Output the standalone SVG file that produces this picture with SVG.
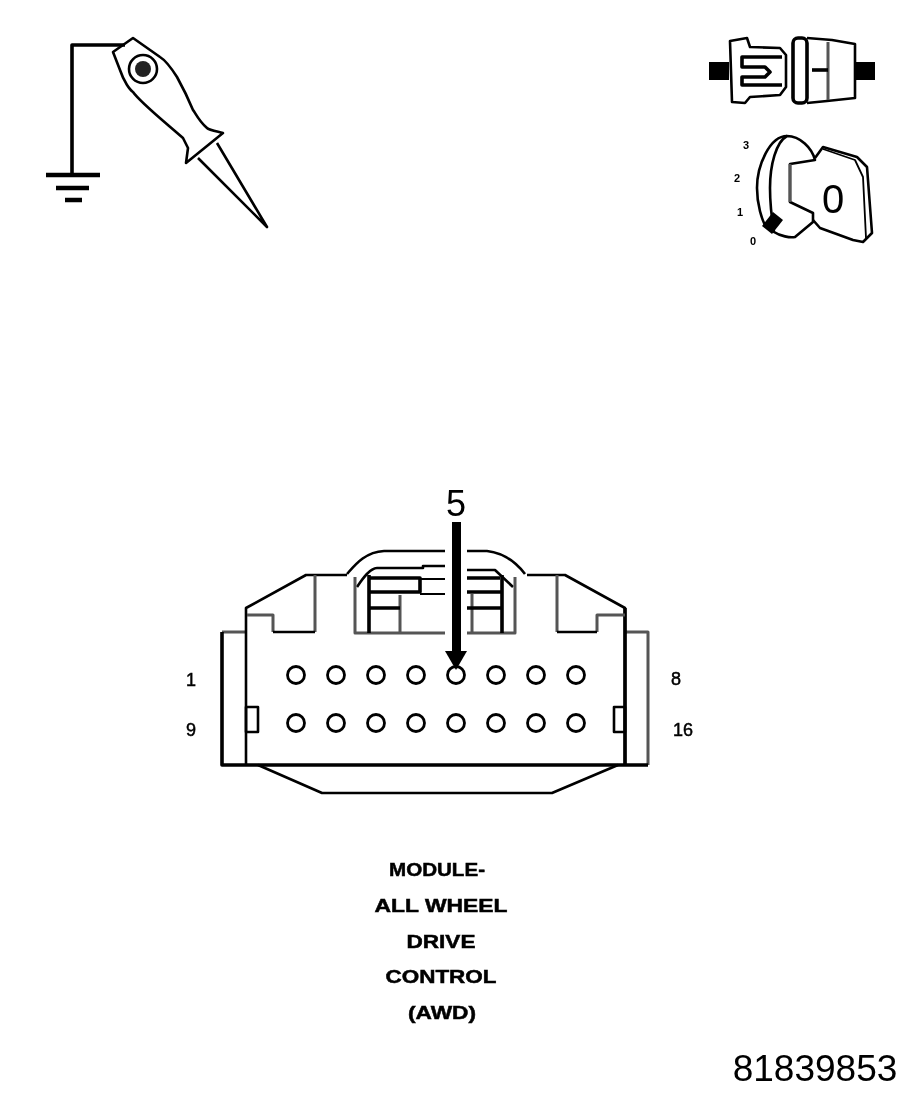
<svg xmlns="http://www.w3.org/2000/svg" width="917" height="1100" viewBox="0 0 917 1100">
<defs><filter id="soft" x="-5%" y="-5%" width="110%" height="110%"><feGaussianBlur stdDeviation="0.6"/></filter></defs>
<style>
.l{fill:none;stroke:#000;stroke-width:2.6;stroke-linejoin:round}
.t{stroke-width:3.6}.n{stroke-width:1.8}.g{stroke:#555;stroke-width:3}
.p{fill:#fff;stroke:#000;stroke-width:2.8}
text{font-family:"Liberation Sans",Arial,sans-serif;fill:#000;text-anchor:middle}
.b{font-weight:bold;font-size:19px;stroke:#000;stroke-width:.5}.s{font-size:18px;stroke:#000;stroke-width:.5}.k{font-size:11px;font-weight:bold}
</style>
<rect width="917" height="1100" fill="#fff"/>
<g filter="url(#soft)">
<g id="connectors">
<path class="l t" d="M125 45H72V175"/>
</g>
<g id="ground">
<path class="l" style="stroke-width:4.5" d="M46 175H100M56 188H89M65 200H82"/>
</g>
<g id="probe">
<path class="l" d="M133 38L113 52L120 70C124 82 130 90 133 92C140 102 160 118 183 138L188 148L186 163L223 133C215 131 209 130 207 128C198 120 195 112 193 110C188 98 182 86 177 77C170 66 165 60 160 57Z"/>
<path class="l" d="M198 158L267 227L217 143"/>
<circle class="l" cx="143" cy="69" r="14"/>
<circle cx="143" cy="69" r="8" fill="#222"/>
</g>
<g id="switch">
<rect x="709" y="62" width="20" height="18" fill="#000"/>
<rect x="856" y="62" width="19" height="18" fill="#000"/>
<path class="l" d="M730 41L747 38L750 47L780 48L786 55V87L780 95L750 97L745 103L732 102Z"/>
<path class="l t" d="M782 57H742V67H765L770 72L765 77H742V85H782"/>
<rect class="l t" x="793" y="38" width="14" height="65" rx="5"/>
<path class="l" d="M807 38L832 40L855 44V98L827 101L807 103"/>
<path class="l g" d="M828 42V100"/>
<path class="l t" d="M812 70H828"/>
</g>
<g id="key">
<path class="l" d="M815 158L823 147L857 157L867 167L872 233L863 242L853 240L820 228L813 220"/>
<path class="l n" d="M823 149L855 160L863 177L866 238"/>
<path class="l" d="M787 136C770 136 757 165 757 188C757 205 762 220 766 227"/>
<path class="l" d="M787 136C776 142 770 165 770 188C770 205 772 220 774 232C780 236 790 238 795 237L813 222V213L790 202V164L815 160C812 148 800 136 787 136Z"/>
<path class="l g" d="M790 164V202"/>
<path d="M773 212L783 220L772 234L762 226Z" fill="#000"/>
<text x="833" y="213" style="font-size:40px">0</text>
<text class="k" x="746" y="149">3</text>
<text class="k" x="737" y="182">2</text>
<text class="k" x="740" y="216">1</text>
<text class="k" x="753" y="245">0</text>
</g>
<g id="connector-body">
<path class="l g" d="M246 632H222M625 632H648V765"/>
<path class="l t" d="M222 632V765H648"/>
<path class="l" d="M246 765V608L306 575H347M625 765V608L565 575H527"/>
<path class="l t" d="M625 608V765"/>
<path class="l" d="M258 765L322 793H552L618 765"/>
<path class="l g" d="M247 615H273V632M315 575V632M557 575V632M597 632V615H625"/>
<path class="l" d="M273 632H315M557 632H597"/>
<path class="l" d="M347 574C355 565 365 552 384 551H445M467 551H487C505 553 518 565 525 574"/>
<path class="l" d="M357 587C363 578 370 568 377 568H423V566H445M467 570H495L513 587"/>
<path class="l g" d="M355 577V633H445M467 633H515V577M400 595V633M472 594V633"/>
<path class="l t" d="M369 575V633M502 575V633M369 578H420V592H369M369 608H400M467 578H500M467 592H501M467 608H501"/>
<path class="l n" d="M420 579H445M420 594H445"/>
<rect class="l" x="246" y="707" width="12" height="25"/>
<rect class="l" x="614" y="707" width="11" height="25"/>
</g>
<g id="pins">
<g>
<circle class="p" cx="296" cy="675" r="8.5"/><circle class="p" cx="336" cy="675" r="8.5"/><circle class="p" cx="376" cy="675" r="8.5"/><circle class="p" cx="416" cy="675" r="8.5"/><circle class="p" cx="456" cy="675" r="8.5"/><circle class="p" cx="496" cy="675" r="8.5"/><circle class="p" cx="536" cy="675" r="8.5"/><circle class="p" cx="576" cy="675" r="8.5"/>
<circle class="p" cx="296" cy="723" r="8.5"/><circle class="p" cx="336" cy="723" r="8.5"/><circle class="p" cx="376" cy="723" r="8.5"/><circle class="p" cx="416" cy="723" r="8.5"/><circle class="p" cx="456" cy="723" r="8.5"/><circle class="p" cx="496" cy="723" r="8.5"/><circle class="p" cx="536" cy="723" r="8.5"/><circle class="p" cx="576" cy="723" r="8.5"/>
</g>
<text class="s" x="191" y="686">1</text>
<text class="s" x="191" y="736">9</text>
<text class="s" x="676" y="685">8</text>
<text class="s" x="683" y="736">16</text>
</g>
<g id="pin-arrow">
<rect x="452" y="522" width="9" height="130" fill="#000"/>
<path d="M445 651H467L456 670Z" fill="#000"/>
<text x="456" y="516" style="font-size:36px">5</text>
</g>
<g id="label">
<text class="b" x="437" y="876" textLength="96" lengthAdjust="spacingAndGlyphs">MODULE-</text>
<text class="b" x="441" y="912" textLength="133" lengthAdjust="spacingAndGlyphs">ALL WHEEL</text>
<text class="b" x="441" y="948" textLength="69" lengthAdjust="spacingAndGlyphs">DRIVE</text>
<text class="b" x="441" y="983" textLength="111" lengthAdjust="spacingAndGlyphs">CONTROL</text>
<text class="b" x="442" y="1019" textLength="68" lengthAdjust="spacingAndGlyphs">(AWD)</text>
</g>
<text id="figure-number" x="815" y="1081" style="font-size:37px">81839853</text>
</g>
</svg>
